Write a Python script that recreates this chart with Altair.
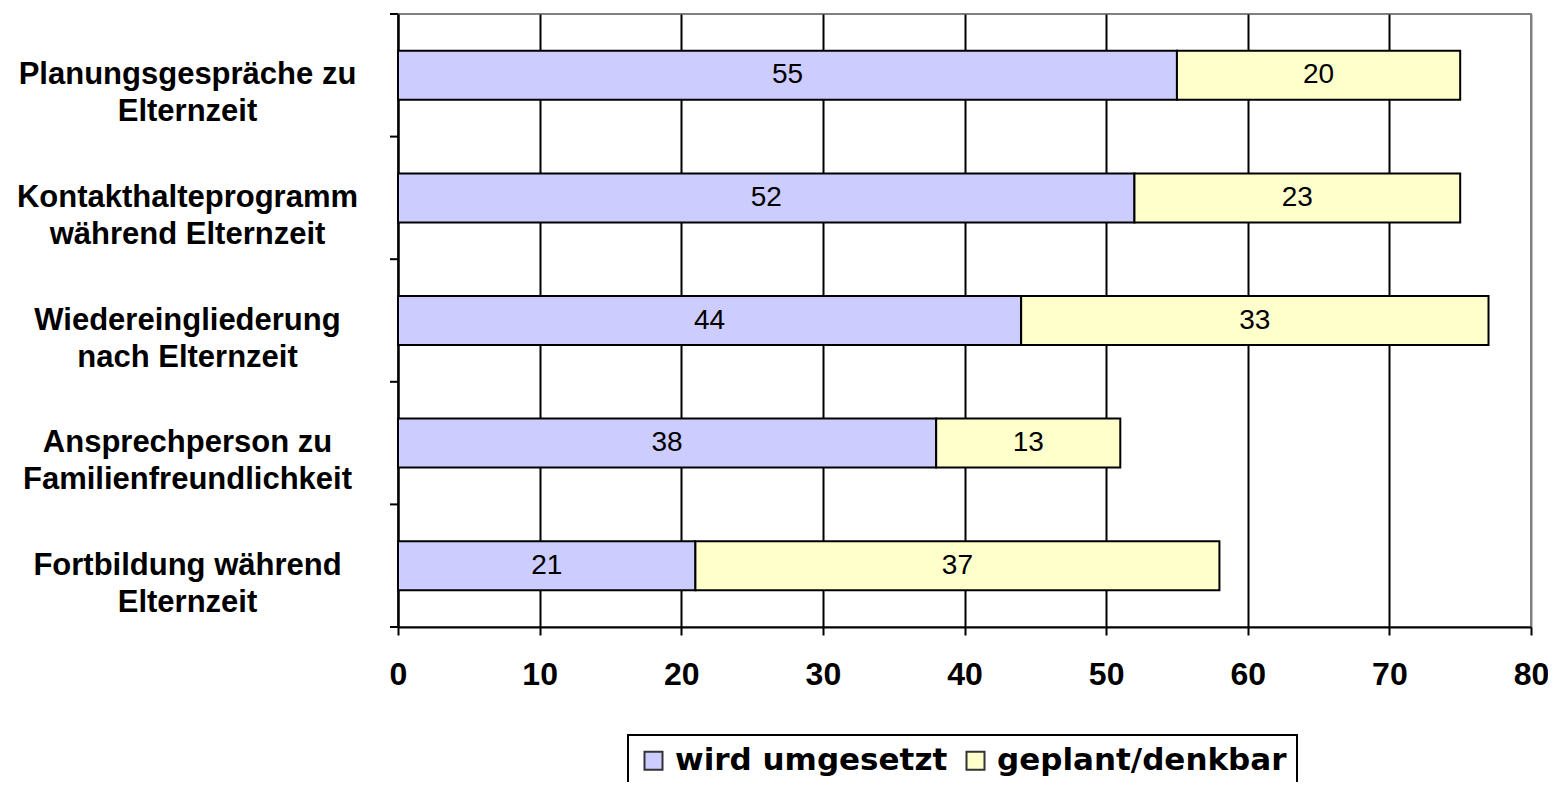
import altair as alt
import pandas as pd

categories = [
    "Planungsgespräche zu\nElternzeit",
    "Kontakthalteprogramm\nwährend Elternzeit",
    "Wiedereingliederung\nnach Elternzeit",
    "Ansprechperson zu\nFamilienfreundlichkeit",
    "Fortbildung während\nElternzeit",
]
umgesetzt = [55, 52, 44, 38, 21]
geplant = [20, 23, 33, 13, 37]
series = ["wird umgesetzt", "geplant/denkbar"]
colors = ["#CCCCFF", "#FFFFCC"]
x_ticks = [0, 10, 20, 30, 40, 50, 60, 70, 80]

rows = []
for c, u, g in zip(categories, umgesetzt, geplant):
    rows.append({"cat": c, "series": series[0], "value": u, "order": 0})
    rows.append({"cat": c, "series": series[1], "value": g, "order": 1})
df = pd.DataFrame(rows)
df_cats = pd.DataFrame({"cat": categories})

FONT = "Liberation Sans"

y_scale = alt.Scale(domain=categories, paddingInner=0.6, paddingOuter=0.3)
x_scale = alt.Scale(domain=[0, 80], nice=False, zero=True)

base = alt.Chart(df).transform_stack(
    stack="value", groupby=["cat"], as_=["x0", "x1"],
    sort=[alt.SortField("order", order="ascending")]
).transform_calculate(mid="(datum.x0 + datum.x1) / 2")

bars = base.mark_bar(stroke="black", strokeWidth=2).encode(
    x=alt.X("x0:Q", scale=x_scale, axis=alt.Axis(
        values=x_ticks, title=None, labelFont=FONT, labelFontWeight="bold",
        labelFontSize=32, labelColor="black", labelPadding=24, labelFlush=False,
        tickSize=8, tickColor="black", tickWidth=2,
        domainColor="black", domainWidth=2,
        grid=True, gridWidth=2,
        gridColor=alt.condition("datum.value == 80", alt.value("#808080"), alt.value("black")),
    )),
    x2="x1:Q",
    y=alt.Y("cat:N", sort=categories, scale=y_scale, axis=alt.Axis(
        title=None, labelExpr="split(datum.label, '\\n')",
        labelAlign="center", labelBaseline="middle", labelPadding=211,
        ticks=False, tickSize=0, labelFont=FONT, labelFontWeight="bold",
        labelFontSize=31, labelLineHeight=37, labelLimit=0, labelColor="black",
        domainColor="black", domainWidth=2, grid=False,
    )),
    color=alt.Color("series:N", scale=alt.Scale(domain=series, range=colors),
                    legend=alt.Legend(
                        title=None, orient="none", legendX=230, legendY=721,
                        direction="horizontal", symbolType="square", symbolSize=324,
                        symbolStrokeColor="#333333", symbolStrokeWidth=2,
                        labelFont="DejaVu Sans", labelFontWeight="bold",
                        labelFontSize=31, labelColor="black", labelOffset=6,
                        columnPadding=12, padding=10, strokeColor="black",
                        labelLimit=0,
                    )),
    order=alt.Order("order:Q"),
)

labels = base.mark_text(font=FONT, fontSize=28, color="black").encode(
    x=alt.X("mid:Q", scale=x_scale),
    y=alt.Y("cat:N", sort=categories, scale=y_scale, axis=None),
    text=alt.Text("value:Q"),
)

tick_scale = alt.Scale(domain=categories, padding=0)
ticks_top = alt.Chart(df_cats).mark_rule(color="black", strokeWidth=2).encode(
    y=alt.Y("cat:N", sort=categories, scale=tick_scale, bandPosition=0, axis=None),
    x=alt.value(-8), x2=alt.value(0),
)
ticks_bottom = alt.Chart(df_cats).transform_filter(
    alt.datum.cat == categories[-1]
).mark_rule(color="black", strokeWidth=2).encode(
    y=alt.Y("cat:N", sort=categories, scale=tick_scale, bandPosition=1, axis=None),
    x=alt.value(-8), x2=alt.value(0),
)

chart = alt.layer(bars, labels, ticks_top, ticks_bottom).resolve_scale(
    y="independent"
).properties(
    width=1133, height=613,
    autosize=alt.AutoSizeParams(type="none"),
    padding={"left": 390, "top": 6, "right": 17, "bottom": 155},
    background="white",
).configure_view(
    stroke="#808080", strokeWidth=2
).configure_legend(strokeWidth=2)

chart.save("out.html", embed_options={"renderer": "svg", "actions": False})
